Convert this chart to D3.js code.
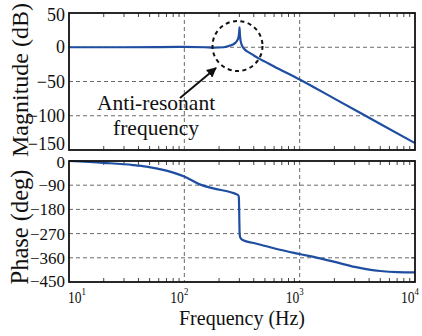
<!DOCTYPE html>
<html><head><meta charset="utf-8">
<script src="https://cdn.jsdelivr.net/npm/d3@7"></script>
<style>body{margin:0;background:#fff}svg{display:block}text{font-family:"Liberation Serif","Times New Roman",serif;fill:#111}</style>
</head><body>
<svg id="c" width="422" height="336"></svg>
<script>
const magFreq = [10,30,60,100,150,180,220,250,275,290,296,299,301,303,306,312,322,335,350,375,400,450,500,600,1000,2000,5000,10000];
const magDb   = [0,0,0.2,0.5,0,-0.6,0,2.5,6,11,16,22,29,20,12,5,0,-3.5,-6,-9,-12,-17,-21,-28,-47,-75,-112,-140];
const phFreq = [10,20,36,47,70,100,136,178,257,284,294,297,299,301,303,306,312,324,400,673,1000,1500,2140,3000,4000,5000,7000,10000];
const phDeg  = [0,-7,-15,-21,-36,-58,-87,-102,-117,-124,-128,-135,-190,-260,-278,-285,-290,-295,-305,-330,-346,-362,-378,-394,-404,-409,-413,-414];
const magTicks = [50,0,-50,-100,-150];
const phTicks = [0,-90,-180,-270,-360,-450];
const decades = [1,2,3,4];

const svg = d3.select("#c");
const L = 69, R = 415;
const x = d3.scaleLog().domain([10,10000]).range([L,R]);
const yM = d3.scaleLinear().domain([-150,50]).range([150,13]);
const yP = d3.scaleLinear().domain([-450,0]).range([282,161]);
const blue = "#1f4ea0";
const minus = v => String(v).replace("-", "\u2212");

const minors = [];
for (let k=1;k<4;k++) for (let m=2;m<=9;m++) minors.push(m*Math.pow(10,k));

function panel(y, ticks, freq, vals, labelSize, lo, hi) {
  const [b,t] = y.range();
  const g = svg.append("g");
  g.selectAll(".gy").data(ticks.filter(v=>y(v)>t+1 && y(v)<b-1)).join("line")
    .attr("x1",L).attr("x2",R).attr("y1",d=>y(d)).attr("y2",d=>y(d))
    .attr("stroke","#6a6a6a").attr("stroke-width",1).attr("stroke-dasharray","4,3");
  g.selectAll(".gx").data([100,1000]).join("line")
    .attr("x1",d=>x(d)).attr("x2",d=>x(d)).attr("y1",t).attr("y2",b)
    .attr("stroke","#6a6a6a").attr("stroke-width",1).attr("stroke-dasharray","4,3");
  g.selectAll(".mt").data(minors).join("line")
    .attr("x1",d=>x(d)).attr("x2",d=>x(d)).attr("y1",b).attr("y2",b-4)
    .attr("stroke","#444").attr("stroke-width",1);
  g.selectAll(".mt2").data(minors).join("line")
    .attr("x1",d=>x(d)).attr("x2",d=>x(d)).attr("y1",t).attr("y2",t+4)
    .attr("stroke","#444").attr("stroke-width",1);
  g.selectAll(".rt").data(ticks).join("line")
    .attr("x1",R).attr("x2",R-4).attr("y1",d=>y(d)).attr("y2",d=>y(d))
    .attr("stroke","#444").attr("stroke-width",1);
  const line = d3.line().x(d=>x(d[0])).y(d=>y(d[1])).curve(d3.curveMonotoneX);
  g.append("path").datum(freq.map((f,i)=>[f,vals[i]])).attr("d",line)
    .attr("fill","none").attr("stroke",blue).attr("stroke-width",2.2);
  g.append("rect").attr("x",L).attr("y",t).attr("width",R-L).attr("height",b-t)
    .attr("fill","none").attr("stroke","#111").attr("stroke-width",1.8);
  g.selectAll(".tl").data(ticks).join("text")
    .attr("x",65).attr("y",d=>Math.max(t+lo, Math.min(b-hi, y(d)))+6)
    .attr("text-anchor","end").attr("font-size",labelSize).text(d=>minus(d));
}
panel(yM, magTicks, magFreq, magDb, 18, 2, 6);
panel(yP, phTicks, phFreq, phDeg, 17, 1, 1);

decades.forEach(k=>{
  const px = x(Math.pow(10,k));
  const t = svg.append("text").attr("font-size",17)
    .attr("transform",`translate(${k===1?px-1:px-14},303) scale(0.8,1)`);
  t.append("tspan").text("10");
  t.append("tspan").attr("font-size",11).attr("dy",-8).text(k);
});

svg.append("text").attr("transform","translate(28,80) rotate(-90)")
  .attr("text-anchor","middle").attr("font-size",24).text("Magnitude (dB)");
svg.append("text").attr("transform","translate(28,227) rotate(-90)")
  .attr("text-anchor","middle").attr("font-size",24.5).text("Phase  (deg)");
svg.append("text").attr("x",242).attr("y",325)
  .attr("text-anchor","middle").attr("font-size",20).text("Frequency  (Hz)");

svg.append("circle").attr("cx",237.5).attr("cy",46).attr("r",25)
  .attr("fill","none").attr("stroke","#111").attr("stroke-width",2).attr("stroke-dasharray","4,3.5");
svg.append("defs").append("marker").attr("id","ah").attr("viewBox","0 0 10 10")
  .attr("refX",9).attr("refY",5).attr("markerWidth",5).attr("markerHeight",5)
  .attr("orient","auto").attr("markerUnits","strokeWidth")
  .append("path").attr("d","M0,0L10,5L0,10z").attr("fill","#111");
svg.append("line").attr("x1",180).attr("y1",98).attr("x2",216).attr("y2",68)
  .attr("stroke","#111").attr("stroke-width",2).attr("marker-end","url(#ah)");
svg.append("text").attr("x",156).attr("y",110).attr("text-anchor","middle")
  .attr("font-size",21.5).text("Anti-resonant");
svg.append("text").attr("x",156).attr("y",134.5).attr("text-anchor","middle")
  .attr("font-size",21.5).text("frequency");
</script>
</body></html>
